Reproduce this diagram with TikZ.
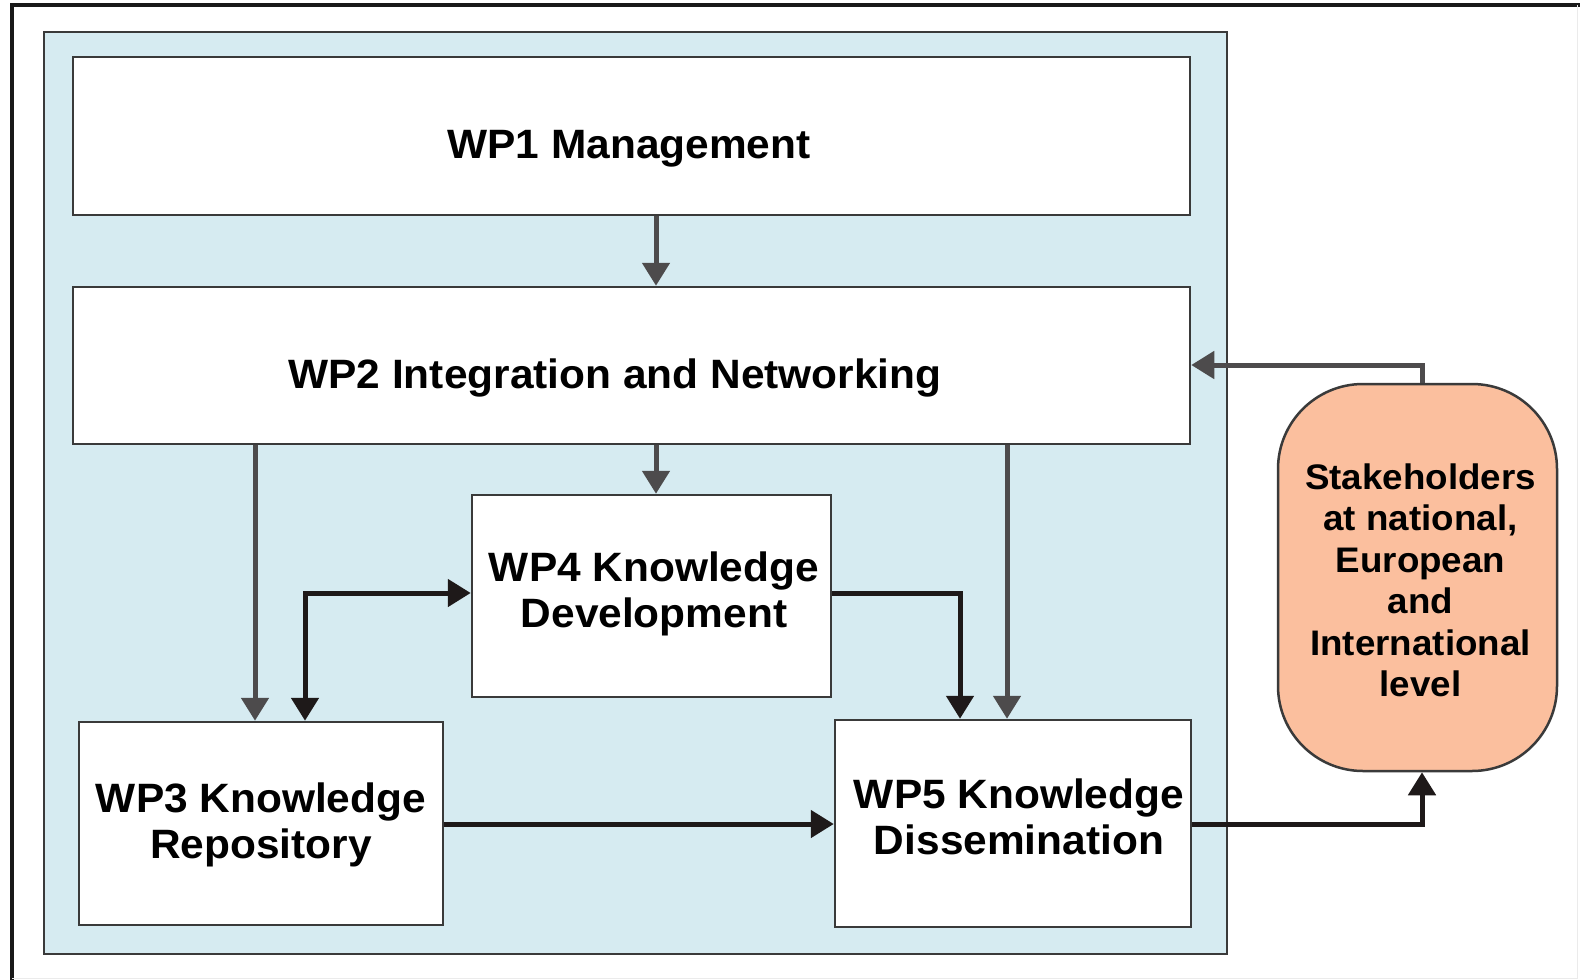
\documentclass[tikz,border=0pt]{standalone}
\usepackage{fontspec}
\setmainfont{Liberation Sans}[FakeStretch=1.035]
\usetikzlibrary{arrows.meta}
\definecolor{panelblue}{HTML}{D6EBF1}
\definecolor{stakefill}{HTML}{FBBF9E}
\definecolor{boxline}{HTML}{3A3A3A}
\definecolor{grayarrow}{HTML}{4D4B4C}
\definecolor{blackarrow}{HTML}{1E1919}
\tikzset{
  wpbox/.style={draw=boxline, line width=2.5pt, fill=white, inner sep=0pt},
  wptext/.style={font=\fontsize{41}{46}\selectfont\bfseries, align=center, inner sep=0pt},
  garrow/.style={draw=grayarrow, line width=5pt, -{Triangle[length=23pt,width=27pt]}},
  barrow/.style={draw=blackarrow, line width=5pt, -{Triangle[length=23pt,width=27pt]}},
}
\begin{document}
\begin{tikzpicture}[x=1pt,y=-1pt]
\useasboundingbox (0,0) rectangle (1580,980);
\fill[white] (0,0) rectangle (1580,980);
% outer frame
\draw[line width=4pt, black!90] (12,980) -- (12,5) -- (1580,5);
\draw[line width=1pt, black!8] (1577,5) -- (1577,978) -- (12,978);
% panel
\node[draw=boxline, line width=2.5pt, fill=panelblue, minimum width=1183pt, minimum height=922pt, inner sep=0pt] (panel) at (635.5,493) {};
% boxes
\node[wpbox, minimum width=1117pt, minimum height=158pt] (wp1) at (631.5,136) {};
\node[wpbox, minimum width=1117pt, minimum height=157pt] (wp2) at (631.5,365.5) {};
\node[wpbox, minimum width=359pt, minimum height=202pt] (wp4) at (651.5,596) {};
\node[wpbox, minimum width=364pt, minimum height=203pt] (wp3) at (261,823.5) {};
\node[wpbox, minimum width=356pt, minimum height=207pt] (wp5) at (1013,823.5) {};
\node[draw=boxline, line width=2.5pt, fill=stakefill, rounded corners=85pt, minimum width=279pt, minimum height=387pt, inner sep=0pt] (st) at (1417.5,577.5) {};
% texts
\node[wptext] (wp1t) at (629,149) {WP1 Management};
\node[wptext] (wp2t) at (615,378) {WP2 Integration and Networking};
\node[wptext] (wp4t) at (654,594) {WP4 Knowledge\\Development};
\node[wptext] (wp3t) at (261,825) {WP3 Knowledge\\Repository};
\node[wptext] (wp5t) at (1019,816.5) {WP5 Knowledge\\Dissemination};
\node[font=\fontsize{35.5}{41.5}\selectfont\bfseries, align=center, inner sep=0pt] (stt) at (1420.5,580.5)
      {Stakeholders\\at national,\\European\\and\\International\\level};
% helper coordinates
\coordinate (x255) at (255,0);
\coordinate (x305) at (305,0);
\coordinate (x656) at (656,0);
\coordinate (x960) at (960,0);
\coordinate (x1007) at (1007,0);
\coordinate (x1422) at (1422,0);
\coordinate (y365) at (0,365);
\coordinate (y593) at (0,593);
\coordinate (y824) at (0,824);
% gray arrows
\draw[garrow] (x656 |- wp1.south) -- (x656 |- wp2.north);
\draw[garrow] (x656 |- wp2.south) -- (x656 |- wp4.north);
\draw[garrow] (x255 |- wp2.south) -- (x255 |- wp3.north);
\draw[garrow] (x1007 |- wp2.south) -- (x1007 |- wp5.north);
\draw[garrow] (x1422 |- st.north) |- (wp2.east |- y365);
% black arrows
\draw[barrow, {Triangle[length=23pt,width=27pt]}-{Triangle[length=23pt,width=27pt]}] (wp4.west |- y593) -| (x305 |- wp3.north);
\draw[barrow] (wp4.east |- y593) -| (x960 |- wp5.north);
\draw[barrow] (wp3.east |- y824) -- (wp5.west |- y824);
\draw[barrow] (wp5.east |- y824) -| (x1422 |- st.south);
\end{tikzpicture}
\end{document}
